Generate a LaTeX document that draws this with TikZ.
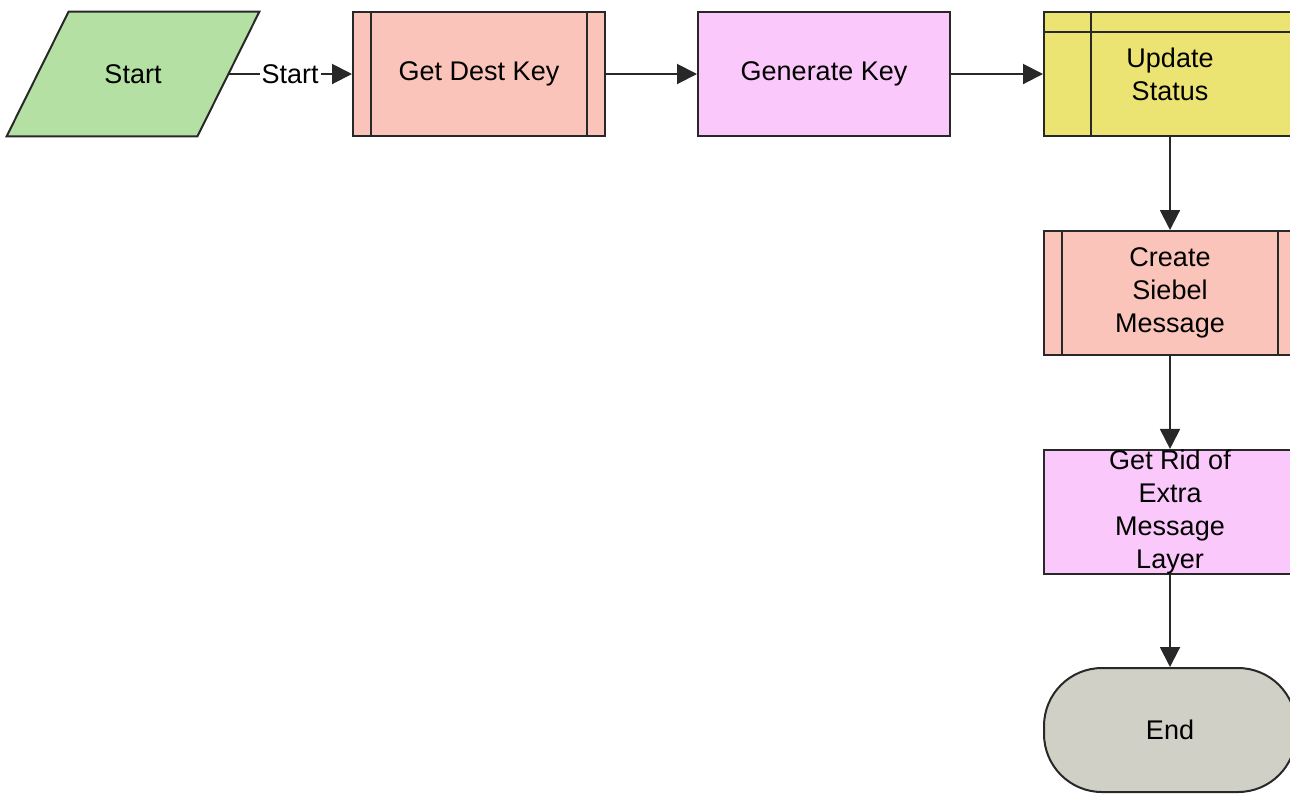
\documentclass[tikz,border=0pt]{standalone}
\usepackage{fontspec}
\setmainfont{Liberation Sans}
\usetikzlibrary{arrows.meta,backgrounds}
\def\W{126pt}
\def\H{62pt}
\def\R{9.5pt}
\definecolor{linecolor}{RGB}{40,40,40}
\definecolor{startcolor}{RGB}{180,224,164}
\definecolor{subcolor}{RGB}{250,196,186}
\definecolor{taskcolor}{RGB}{250,200,250}
\definecolor{statuscolor}{RGB}{236,228,114}
\definecolor{endcolor}{RGB}{208,208,198}
\begin{document}
\begin{tikzpicture}[x=0.5pt,y=-0.5pt,font=\fontsize{13.5}{16.5}\selectfont,
    box/.style={draw=linecolor,line width=1pt,minimum width=\W,minimum height=\H,
        inner sep=0pt,align=center},
    subbox/.style={box,fill=subcolor},
    taskbox/.style={box,fill=taskcolor},
    statusbox/.style={box,fill=statuscolor},
    endbox/.style={box,fill=endcolor,rounded corners=29pt},
    startbox/.style={minimum width=95pt,minimum height=\H,inner sep=0pt},
    flow/.style={draw=linecolor,line width=1pt,-{Triangle[length=10pt,width=10pt]}}]
\useasboundingbox (0,0) rectangle (1290,794);
\node[startbox] (st) at (133,74) {Start};
\begin{pgfonlayer}{background}
\filldraw[fill=startcolor,draw=linecolor,line width=1pt]
    ([xshift=15.5pt]st.north west) -- ([xshift=15.5pt]st.north east)
    -- ([xshift=-15.5pt]st.south east) -- ([xshift=-15.5pt]st.south west) -- cycle;
\end{pgfonlayer}
\node[subbox] (gdk) at (479,74) {Get Dest Key};
\node[taskbox] (gk) at (824,74) {Generate Key};
\node[statusbox] (us) at (1170,74) {Update\\Status};
\node[subbox] (csm) at (1170,293) {Create\\Siebel\\Message};
\node[taskbox] (grl) at (1170,512) {Get Rid of\\Extra\\Message\\Layer};
\node[endbox] (end) at (1170,730) {End};
% sub-process bars
\foreach \n in {gdk,csm}{
    \draw[linecolor,line width=1pt] ([xshift=\R]\n.north west) -- ([xshift=\R]\n.south west);
    \draw[linecolor,line width=1pt] ([xshift=-\R]\n.north east) -- ([xshift=-\R]\n.south east);
}
\draw[linecolor,line width=1pt] ([xshift=24pt]us.north west) -- ([xshift=24pt]us.south west);
\draw[linecolor,line width=1pt] ([yshift=-10.5pt]us.north west) -- ([yshift=-10.5pt]us.north east);
% connectors
\draw[flow] (st.east) -- node[fill=white,inner sep=1pt] {Start} (gdk);
\draw[flow] (gdk) -- (gk);
\draw[flow] (gk) -- (us);
\draw[flow] (us) -- (csm);
\draw[flow] (csm) -- (grl);
\draw[flow] (grl) -- (end);
\end{tikzpicture}
\end{document}
